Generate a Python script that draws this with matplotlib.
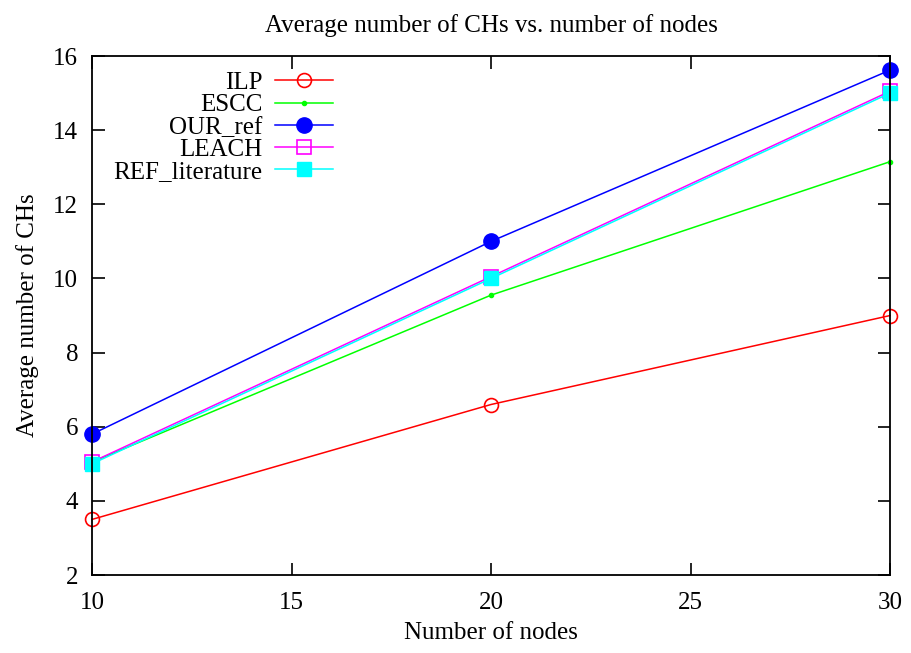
#!/usr/bin/env python3
"""Average number of CHs vs. number of nodes (gnuplot-like style)."""
import matplotlib
matplotlib.use("Agg")
import matplotlib.pyplot as plt

nodes = [10, 20, 30]
ilp = [3.5, 6.6, 9.0]
escc = [5.05, 9.55, 13.15]
our_ref = [5.8, 11.0, 15.62]
leach = [5.05, 10.05, 15.05]
ref_literature = [5.0, 10.0, 15.0]

plt.rcParams["font.family"] = ["Liberation Serif", "DejaVu Serif"]

fig = plt.figure(figsize=(9.11, 6.53), dpi=100)
ax = fig.add_axes([0.101, 0.1194, 0.876, 0.7948])

ax.plot(nodes, ilp, color="red", lw=1.1, marker="o", ms=10, mfc="none", mec="red", mew=1.2, label="ILP", clip_on=False)
ax.plot(nodes, escc, color="#00ff00", lw=1.1, marker="o", ms=3, label="ESCC", clip_on=False)
ax.plot(nodes, our_ref, color="blue", lw=1.1, marker="o", ms=11, label="OUR_ref", clip_on=False)
ax.plot(nodes, leach, color="magenta", lw=1.1, marker="s", ms=10, mfc="none", mec="magenta", mew=1.2, label="LEACH", clip_on=False)
ax.plot(nodes, ref_literature, color="cyan", lw=1.1, marker="s", ms=10, label="REF_literature", clip_on=False)

ax.set_xlim(10, 30)
ax.set_ylim(2, 16)
ax.set_xticks([10, 15, 20, 25, 30])
ax.set_yticks(range(2, 17, 2))
ax.tick_params(direction="in", length=9, width=1.2, top=True, right=True, labelsize=18)
ax.tick_params(axis="x", pad=12)
ax.tick_params(axis="y", pad=10)
for s in ax.spines.values():
    s.set_linewidth(1.3)

ax.set_title("Average number of CHs vs. number of nodes", fontsize=18, pad=17)
ax.set_xlabel("Number of nodes", fontsize=18, labelpad=6)
ax.set_ylabel("Average number of CHs", fontsize=18, labelpad=10)

ax.legend(loc="upper left", bbox_to_anchor=(0.008, 0.999), markerfirst=False, frameon=False,
          fontsize=18, handlelength=2.3, handletextpad=0.5, labelspacing=-0.01,
          borderaxespad=0.2)

fig.savefig("out.png", dpi=100)
